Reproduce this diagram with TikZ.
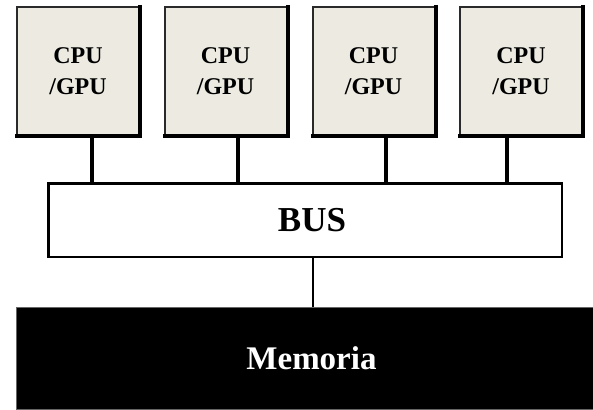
\documentclass[tikz,border=0pt]{standalone}
\usepackage{fontspec}
\setmainfont{Liberation Serif}
\definecolor{cpufill}{HTML}{EDEBE1}
\definecolor{edgegray}{HTML}{2A2A2A}
\begin{document}
\begin{tikzpicture}[x=1pt,y=-1pt,
  cpubox/.style={draw=edgegray,line width=2pt,fill=cpufill,minimum width=122pt,minimum height=128pt,inner sep=0pt,align=center,font=\fontsize{24}{31}\selectfont\bfseries},
  busbox/.style={draw=black,line width=2.5pt,fill=white,minimum width=513.5pt,minimum height=73.5pt,inner sep=0pt,font=\fontsize{35}{40}\selectfont\bfseries},
  membox/.style={draw=black!60,line width=1pt,fill=black,text=white,minimum width=577pt,minimum height=102pt,inner sep=0pt,font=\fontsize{33}{40}\selectfont\bfseries},
  link/.style={line width=4pt,black},
  shadowedge/.style={line width=4pt,black,line cap=rect}]
\useasboundingbox (0,0) rectangle (593,409);
\node[cpubox] (c1) at (78,71) {CPU\\/GPU};
\node[cpubox] (c2) at (225.5,71) {CPU\\/GPU};
\node[cpubox] (c3) at (373.5,71) {CPU\\/GPU};
\node[cpubox] (c4) at (521,71) {CPU\\/GPU};
\foreach \n in {c1,c2,c3,c4}{
  \draw[shadowedge] ([yshift=-1pt]\n.north east) -- ([xshift=0pt]\n.south east) -- ([xshift=1pt]\n.south west);
}
\node[busbox] (bus) at (305,220) {\hspace*{14pt}BUS};
\node[membox] (mem) at (304.5,358) {\hspace*{14pt}Memoria};
\draw[link] ([xshift=14pt]c1.south) -- ([xshift=14pt]c1.south |- bus.north);
\draw[link] ([xshift=12.5pt]c2.south) -- ([xshift=12.5pt]c2.south |- bus.north);
\draw[link] ([xshift=12.5pt]c3.south) -- ([xshift=12.5pt]c3.south |- bus.north);
\draw[link] ([xshift=-14pt]c4.south) -- ([xshift=-14pt]c4.south |- bus.north);
\draw[line width=2pt,black] ([xshift=8pt]bus.south) -- ([xshift=8pt]bus.south |- mem.north);
\end{tikzpicture}
\end{document}
